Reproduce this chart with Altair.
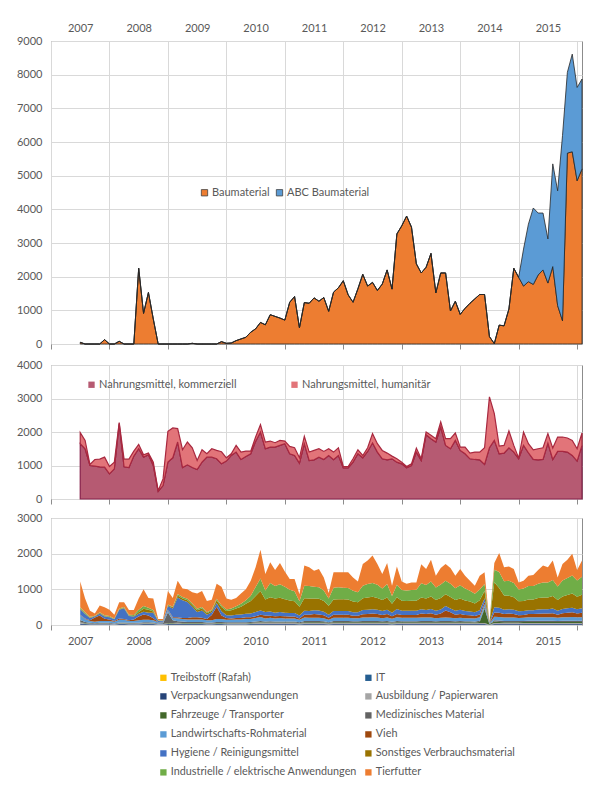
import altair as alt
import pandas as pd

# ---------------- categories ----------------
months = pd.date_range("2007-01-01", periods=104, freq="MS")
t_vals = [d.year + (d.month - 1) / 12 for d in months]

# ---------------- panel 1: construction material ----------------
bau_names = ["Baumaterial", "ABC Baumaterial"]
bau = [50, 0, 0, 0, 0, 130, 0, 0, 80, 0, 0, 0,
       2250, 910, 1530, 740, 0, 0, 0, 0, 0, 0, 0, 20,
       0, 0, 0, 0, 0, 70, 20, 30, 100, 150, 200, 350,
       450, 640, 570, 870, 820, 770, 710, 1240, 1410, 480, 1230, 1210,
       1370, 1270, 1380, 970, 1540, 1670, 1880, 1460, 1240, 1640, 2070, 1720,
       1830, 1590, 1780, 2200, 1630, 3270, 3510, 3800, 3470, 2380, 2110, 2280,
       2690, 1520, 2110, 2110, 980, 1270, 880, 1060, 1210, 1340, 1470, 1470,
       220, 10, 560, 540, 1040, 2250, 1980, 1720, 1850, 1770, 2050, 2200,
       1810, 2300, 1140, 690, 5670, 5710, 4850, 5200]
abc = [0] * 91 + [1100, 1710, 2270, 1840, 1690, 1310, 3050, 3410, 5500, 2400, 2900, 2770, 2670]

# ---------------- panel 2: food ----------------
food_names = ["Nahrungsmittel, kommerziell", "Nahrungsmittel, humanitär"]
food_comm = [1650, 1500, 1000, 980, 960, 950, 750, 900, 2250, 960, 940, 1280,
             1500, 1250, 1320, 1000, 230, 400, 1100, 1230, 1700, 940, 1020, 940,
             880, 1100, 1250, 1250, 1200, 1050, 1130, 1300, 1400, 1180, 1270, 1350,
             1720, 2000, 1500, 1550, 1550, 1600, 1650, 1350, 1300, 1070, 1650, 1150,
             1170, 1250, 1180, 1300, 1170, 1300, 930, 930, 1100, 1350, 1230, 1420,
             1670, 1400, 1200, 1170, 1200, 1100, 1050, 930, 1000, 1400, 1150, 1920,
             1800, 1700, 2150, 1600, 1500, 1750, 1450, 1350, 1200, 1180, 1170, 1030,
             1530, 1750, 1350, 1370, 1530, 1400, 1200, 1600, 1380, 1180, 1170, 1180,
             1670, 1180, 1420, 1420, 1400, 1300, 1130, 1600]
food_hum = [330, 250, 30, 200, 230, 300, 220, 200, 30, 230, 250, 150,
            130, 70, 50, 100, 20, 200, 920, 890, 400, 530, 680, 590,
            270, 370, 100, 250, 250, 360, 100, 50, 200, 220, 160, 80,
            130, 220, 200, 180, 130, 150, 80, 220, 230, 160, 220, 250,
            280, 250, 240, 200, 230, 230, 40, 40, 100, 120, 70, 110,
            280, 250, 250, 200, 80, 100, 50, 40, 50, 120, 50, 80,
            100, 100, 150, 200, 300, 220, 100, 200, 170, 220, 230, 500,
            1520, 800, 230, 230, 500, 200, 20, 400, 270, 290, 330, 350,
            280, 340, 430, 430, 420, 450, 370, 370]

# ---------------- panel 3: other goods ----------------
other_names = ["Treibstoff (Rafah)", "IT", "Verpackungsanwendungen", "Ausbildung / Papierwaren",
               "Fahrzeuge / Transporter", "Medizinisches Material", "Landwirtschafts-Rohmaterial",
               "Vieh", "Hygiene / Reinigungsmittel", "Sonstiges Verbrauchsmaterial",
               "Industrielle / elektrische Anwendungen", "Tierfutter"]
other_colors = ["#FFC000", "#255E91", "#264478", "#A5A5A5", "#43682B", "#636363",
                "#5B9BD5", "#9E480E", "#4472C4", "#997300", "#70AD47", "#ED7D31"]

treib = [0] * 104
it = [10, 5, 5, 5, 5, 5, 5, 5, 5, 5, 5, 5,
      5, 5, 5, 5, 5, 5, 5, 5, 5, 5, 5, 5,
      5, 5, 5, 5, 5, 5, 5, 5, 5, 5, 5, 5,
      10, 10, 10, 10, 10, 10, 10, 10, 10, 5, 10, 10,
      10, 10, 10, 5, 10, 10, 10, 10, 10, 10, 10, 10,
      10, 10, 10, 10, 5, 10, 10, 10, 10, 10, 10, 10,
      10, 10, 10, 10, 10, 10, 10, 10, 10, 10, 10, 10,
      0, 10, 10, 10, 10, 10, 10, 10, 10, 10, 10, 10,
      10, 10, 10, 10, 10, 10, 10, 10]
verp = [30, 20, 15, 15, 15, 15, 15, 10, 20, 20, 15, 15,
        15, 20, 20, 20, 10, 10, 20, 20, 25, 20, 20, 20,
        20, 20, 15, 15, 20, 20, 15, 15, 15, 15, 15, 20,
        20, 20, 20, 20, 20, 20, 20, 20, 20, 15, 20, 20,
        20, 20, 20, 15, 20, 20, 20, 20, 20, 20, 20, 20,
        20, 20, 20, 20, 15, 20, 20, 20, 20, 20, 20, 20,
        20, 20, 20, 20, 20, 20, 20, 20, 20, 20, 20, 20,
        5, 20, 20, 20, 20, 20, 20, 20, 20, 20, 20, 20,
        20, 20, 20, 20, 20, 20, 20, 20]
ausb = [30, 20, 15, 10, 15, 15, 15, 10, 20, 20, 15, 15,
        20, 20, 20, 20, 10, 10, 20, 20, 25, 20, 20, 20,
        20, 20, 15, 15, 20, 20, 20, 20, 20, 20, 20, 20,
        25, 30, 25, 25, 25, 25, 25, 25, 25, 20, 25, 25,
        25, 25, 25, 20, 25, 25, 25, 25, 25, 25, 25, 25,
        25, 25, 25, 25, 20, 25, 25, 25, 25, 25, 25, 25,
        25, 25, 25, 25, 25, 25, 25, 25, 25, 20, 25, 25,
        5, 25, 25, 25, 25, 25, 25, 25, 25, 25, 25, 25,
        25, 25, 25, 25, 25, 25, 25, 25]
fahr = [10, 10, 5, 5, 5, 5, 5, 5, 5, 5, 5, 5,
        5, 5, 5, 5, 5, 5, 10, 10, 10, 10, 10, 10,
        10, 10, 10, 10, 10, 10, 10, 10, 10, 10, 10, 10,
        15, 15, 15, 15, 15, 15, 15, 15, 15, 10, 20, 20,
        20, 20, 20, 15, 20, 20, 20, 20, 20, 20, 20, 20,
        20, 20, 20, 20, 20, 20, 20, 20, 20, 20, 20, 20,
        20, 20, 20, 20, 20, 20, 20, 20, 20, 20, 30, 400,
        10, 40, 30, 25, 25, 25, 25, 30, 30, 30, 30, 30,
        30, 30, 30, 30, 30, 30, 30, 30]
med = [60, 30, 20, 15, 20, 20, 20, 15, 20, 20, 20, 20,
       20, 25, 25, 20, 15, 20, 300, 80, 40, 40, 30, 30,
       30, 30, 25, 25, 30, 30, 25, 25, 25, 25, 30, 30,
       30, 40, 30, 35, 30, 30, 30, 30, 30, 25, 35, 35,
       35, 35, 30, 25, 35, 35, 35, 35, 30, 30, 35, 35,
       35, 35, 30, 35, 30, 35, 30, 30, 30, 30, 35, 35,
       35, 30, 35, 35, 35, 30, 35, 30, 30, 30, 35, 40,
       5, 40, 40, 35, 35, 35, 30, 30, 35, 35, 35, 35,
       35, 35, 30, 35, 35, 35, 35, 35]
land = [130, 80, 55, 40, 55, 55, 55, 45, 80, 80, 55, 55,
        70, 70, 70, 60, 30, 30, 60, 60, 85, 70, 70, 70,
        70, 70, 60, 60, 80, 80, 70, 70, 80, 80, 85, 85,
        95, 110, 85, 95, 85, 95, 85, 85, 85, 70, 100, 95,
        95, 95, 85, 70, 95, 95, 95, 95, 85, 85, 100, 100,
        105, 100, 85, 100, 85, 110, 95, 95, 95, 95, 100, 100,
        100, 85, 95, 100, 95, 85, 95, 85, 85, 85, 95, 95,
        15, 95, 100, 95, 95, 95, 85, 85, 95, 95, 95, 100,
        100, 100, 85, 100, 100, 105, 95, 100]
vieh = [20, 20, 20, 120, 150, 60, 40, 20, 30, 20, 20, 40,
        100, 150, 120, 60, 10, 10, 20, 20, 30, 30, 40, 60,
        60, 50, 40, 150, 350, 100, 50, 40, 40, 40, 50, 50,
        50, 60, 80, 60, 60, 60, 60, 50, 50, 40, 80, 80,
        100, 90, 80, 50, 80, 80, 80, 80, 70, 70, 90, 100,
        110, 100, 90, 100, 70, 90, 80, 80, 80, 80, 110, 100,
        120, 100, 120, 200, 150, 100, 100, 90, 80, 70, 80, 60,
        10, 120, 120, 100, 110, 100, 80, 80, 90, 90, 100, 100,
        100, 110, 90, 110, 120, 130, 110, 120]
hyg = [150, 120, 60, 30, 60, 60, 60, 50, 250, 300, 120, 80,
       80, 80, 80, 150, 30, 30, 100, 250, 550, 500, 450, 300,
       150, 200, 120, 80, 100, 120, 80, 80, 90, 100, 100, 100,
       120, 120, 100, 120, 100, 110, 100, 100, 100, 80, 110, 110,
       110, 110, 100, 90, 110, 110, 110, 110, 100, 100, 120, 120,
       120, 120, 110, 120, 100, 140, 120, 120, 120, 120, 120, 110,
       120, 110, 110, 120, 110, 110, 120, 110, 110, 100, 120, 100,
       10, 150, 140, 120, 120, 120, 110, 110, 110, 110, 120, 120,
       120, 130, 110, 120, 130, 130, 120, 130]
sonst = [20, 20, 15, 10, 15, 15, 15, 10, 15, 15, 10, 15,
         50, 80, 80, 40, 5, 5, 20, 30, 60, 50, 50, 50,
         50, 60, 40, 40, 80, 120, 120, 150, 180, 220, 280, 350,
         450, 550, 350, 400, 400, 400, 380, 350, 330, 250, 350, 350,
         330, 330, 300, 250, 320, 330, 330, 320, 300, 280, 330, 340,
         350, 330, 310, 340, 250, 330, 280, 270, 280, 280, 330, 320,
         350, 300, 320, 330, 320, 300, 320, 300, 280, 250, 280, 200,
         5, 700, 550, 400, 380, 350, 280, 280, 300, 300, 320, 330,
         330, 350, 300, 350, 370, 400, 350, 380]
indu = [40, 30, 20, 10, 20, 20, 20, 15, 20, 20, 20, 30,
        60, 80, 60, 40, 10, 10, 20, 20, 40, 40, 40, 40,
        40, 40, 30, 30, 40, 50, 40, 50, 60, 80, 100, 150,
        250, 350, 250, 400, 350, 380, 350, 300, 280, 150, 350, 350,
        330, 320, 300, 200, 330, 330, 320, 320, 300, 280, 350, 380,
        380, 370, 320, 380, 220, 350, 300, 300, 300, 310, 400, 380,
        420, 350, 380, 380, 370, 330, 370, 330, 300, 270, 300, 200,
        10, 350, 450, 400, 420, 400, 330, 350, 380, 380, 400, 420,
        420, 450, 380, 450, 480, 500, 450, 500]
tier = [720, 385, 170, 60, 190, 230, 180, 105, 175, 135, 135, 140,
        315, 465, 275, 320, 40, 35, 375, 245, 370, 235, 265, 315,
        425, 445, 310, 280, 425, 515, 305, 240, 235, 285, 305, 420,
        555, 805, 465, 580, 445, 595, 425, 305, 345, 195, 570, 525,
        445, 515, 360, 160, 435, 425, 435, 445, 370, 300, 610, 660,
        775, 580, 410, 590, 285, 510, 240, 190, 210, 200, 530, 450,
        610, 330, 465, 470, 445, 350, 455, 360, 280, 225, 385, 330,
        5, 190, 535, 390, 400, 390, 195, 220, 285, 305, 385, 480,
        430, 550, 250, 460, 510, 615, 295, 460]
other_series = [treib, it, verp, ausb, fahr, med, land, vieh, hyg, sonst, indu, tier]

# ---------------- tables ----------------
rows1 = []
for o, (name, vals) in enumerate(zip(bau_names, [bau, abc])):
    for t, v in zip(t_vals, vals):
        rows1.append({"t": t, "v": v, "s1": name, "o": o})
df1 = pd.DataFrame(rows1)

rows2 = []
for o, (name, vals) in enumerate(zip(food_names, [food_comm, food_hum])):
    for t, v in zip(t_vals, vals):
        rows2.append({"t": t, "v": v, "s2": name, "o": o})
df2 = pd.DataFrame(rows2)

rows3 = []
for o, (name, vals) in enumerate(zip(other_names, other_series)):
    for t, v in zip(t_vals, vals):
        rows3.append({"t": t, "v": v, "s3": name, "o": o})
df3 = pd.DataFrame(rows3)

# ---------------- layout helpers ----------------
W = 531
X_DOM = [2006.5, 2007 + 103 / 12]
GRID_VALS = [2006.5 + i for i in range(10)]
LAB_OFF = W / (X_DOM[1] - X_DOM[0]) / 2
LABEL_EXPR = "datum.value < 2015 ? toString(datum.value + 0.5) : ''"
LABEL_OFFSET = {"condition": {"test": "datum.value > 2015", "value": 0}, "value": LAB_OFF}
xscale = alt.Scale(domain=X_DOM, nice=False, zero=False)
GRID = "#d9d9d9"
TXT = "#595959"
FRAME = "#8c8c8c"


def yaxis(top):
    return alt.Axis(values=list(range(0, top + 1, 1000)), ticks=False, domain=False,
                    grid=True, labelPadding=9, title=None, format="d")


# ---- top panel ----
top_area = alt.Chart(df1).mark_area(stroke="#262626", strokeWidth=0.8, strokeJoin="round").encode(
    x=alt.X("t:Q", scale=xscale,
            axis=alt.Axis(orient="top", values=GRID_VALS, labelExpr=LABEL_EXPR, labelOffset=LABEL_OFFSET,
                          ticks=False, domain=False, grid=True, labelFlush=False, labelOverlap=False,
                          labelPadding=8, title=None)),
    y=alt.Y("v:Q", stack="zero", scale=alt.Scale(domain=[0, 9000], nice=False), axis=yaxis(9000)),
    color=alt.Color("s1:N", scale=alt.Scale(domain=bau_names, range=["#ED7D31", "#5B9BD5"]),
                    legend=alt.Legend(orient="none", direction="horizontal", legendX=148, legendY=146,
                                      title=None, columnPadding=4, symbolStrokeColor="#404040",
                                      symbolStrokeWidth=0.8, symbolSize=40)),
    order=alt.Order("o:Q", sort="ascending"),
)
top_ticks = alt.Chart(df1).mark_point(opacity=0, size=1).encode(
    x=alt.X("t:Q", scale=xscale,
            axis=alt.Axis(orient="bottom", values=GRID_VALS, labels=False, ticks=True, tickSize=5,
                          domain=False, grid=False, title=None)),
    y=alt.value(100),
)
top = alt.layer(top_area, top_ticks).resolve_axis(x="independent").properties(width=W, height=303)

# ---- middle panel ----
mid = alt.Chart(df2).mark_area(strokeWidth=1.2).encode(
    x=alt.X("t:Q", scale=xscale,
            axis=alt.Axis(orient="bottom", values=GRID_VALS, labels=False, ticks=True, tickSize=5,
                          domain=False, grid=True, title=None)),
    y=alt.Y("v:Q", stack="zero", scale=alt.Scale(domain=[0, 4000], nice=False), axis=yaxis(4000)),
    color=alt.Color("s2:N", scale=alt.Scale(domain=food_names, range=["#b65a72", "#e27479"]),
                    legend=alt.Legend(orient="none", direction="horizontal", legendX=35, legendY=14,
                                      title=None, columnPadding=52)),
    stroke=alt.Stroke("s2:N", scale=alt.Scale(domain=food_names, range=["#86204a", "#a8283f"]),
                      legend=None),
    order=alt.Order("o:Q", sort="ascending"),
).properties(width=W, height=134)

# ---- bottom panel ----
bot = alt.Chart(df3).mark_area().encode(
    x=alt.X("t:Q", scale=xscale,
            axis=alt.Axis(orient="bottom", values=GRID_VALS, labelExpr=LABEL_EXPR, labelOffset=LABEL_OFFSET,
                          ticks=True, tickSize=5, domain=False, grid=True, labelFlush=False,
                          labelOverlap=False, labelPadding=5, title=None)),
    y=alt.Y("v:Q", stack="zero", scale=alt.Scale(domain=[0, 3000], nice=False), axis=yaxis(3000)),
    color=alt.Color("s3:N", scale=alt.Scale(domain=other_names, range=other_colors),
                    legend=alt.Legend(orient="none", direction="horizontal", columns=2, legendX=107,
                                      legendY=154, title=None, columnPadding=6, rowPadding=7,
                                      labelLimit=260, symbolSize=40, labelFontSize=10.8)),
    order=alt.Order("o:Q", sort="ascending"),
).properties(width=W, height=107)

lower = alt.vconcat(mid, bot, spacing=6).resolve_scale(y="independent", color="independent",
                                                      stroke="independent")
chart = alt.vconcat(top, lower, spacing=8).resolve_scale(
    y="independent", color="independent", stroke="independent"
).properties(
    padding={"left": 15, "top": 21, "right": 8, "bottom": 5}
).configure(font="Lato").configure_view(stroke=FRAME, strokeWidth=1).configure_axis(
    labelFont="Lato", labelFontSize=11, labelColor=TXT, gridColor=GRID, gridWidth=1,
    tickColor=FRAME
).configure_legend(
    labelFont="Lato", labelFontSize=11, labelColor=TXT, symbolType="square", symbolSize=40,
    symbolStrokeWidth=0, labelOffset=2
)

chart.save("out.html", embed_options={"renderer": "svg", "actions": False})
